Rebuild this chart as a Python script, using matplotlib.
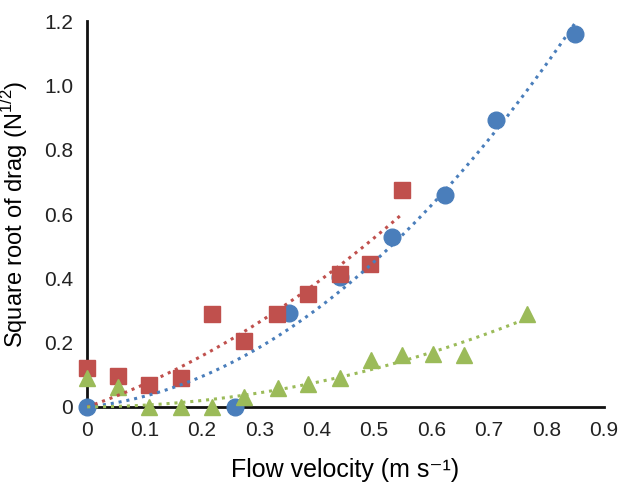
import numpy as np
import matplotlib as mpl
mpl.use("Agg")
import matplotlib.pyplot as plt

mpl.rcParams.update({"font.family": ["Liberation Sans", "DejaVu Sans"]})

# blue circles
blue_x = [0.0, 0.258, 0.351, 0.44, 0.531, 0.623, 0.713, 0.849]
blue_y = [0.0, 0.0, 0.291, 0.403, 0.529, 0.66, 0.892, 1.16]
# red squares
red_x = [0.0, 0.054, 0.108, 0.164, 0.218, 0.274, 0.331, 0.384, 0.44, 0.492, 0.548]
red_y = [0.12, 0.096, 0.068, 0.09, 0.29, 0.205, 0.29, 0.35, 0.413, 0.446, 0.675]
# green triangles
green_x = [0.0, 0.054, 0.108, 0.164, 0.218, 0.274, 0.333, 0.384, 0.44, 0.494, 0.548, 0.602, 0.656, 0.766]
green_y = [0.09, 0.062, 0.0, 0.0, 0.0, 0.03, 0.06, 0.07, 0.09, 0.146, 0.16, 0.166, 0.16, 0.29]

x_ticks = [0, 0.1, 0.2, 0.3, 0.4, 0.5, 0.6, 0.7, 0.8, 0.9]
x_labels = ["0", "0.1", "0.2", "0.3", "0.4", "0.5", "0.6", "0.7", "0.8", "0.9"]
y_ticks = [0, 0.2, 0.4, 0.6, 0.8, 1.0, 1.2]
y_labels = ["0", "0.2", "0.4", "0.6", "0.8", "1.0", "1.2"]


def trend(x, y):
  # 2nd order polynomial, intercept fixed at zero (like the spreadsheet trendline)
  x = np.asarray(x)
  y = np.asarray(y)
  A = np.column_stack([x ** 2, x])
  coef = np.linalg.lstsq(A, y, rcond=None)[0]
  xs = np.linspace(0, x.max(), 100)
  return xs, coef[0] * xs ** 2 + coef[1] * xs


fig = plt.figure(figsize=(6.27, 4.92), dpi=100)
ax = fig.add_axes([0.139, 0.173, 0.824, 0.784])

series = [
  (blue_x, blue_y, "#4a7ebb", "o"),
  (red_x, red_y, "#c0504d", "s"),
  (green_x, green_y, "#9bbb59", "^"),
]
for x, y, c, m in series:
  ax.plot(x, y, linestyle="none", marker=m, markersize=12, color=c,
          clip_on=False, zorder=3)
for x, y, c, m in series:
  xs, ys = trend(x, y)
  ax.plot(xs, ys, linestyle=(0, (1, 1.6)), linewidth=2.2, color=c,
          clip_on=False, zorder=4)

ax.set_xlim(0, 0.9)
ax.set_ylim(0, 1.2)
ax.set_xticks(x_ticks)
ax.set_xticklabels(x_labels)
ax.set_yticks(y_ticks)
ax.set_yticklabels(y_labels)
ax.tick_params(length=0, labelsize=15, colors="#222222", pad=10)
ax.spines["top"].set_visible(False)
ax.spines["right"].set_visible(False)
for s in ["left", "bottom"]:
  ax.spines[s].set_linewidth(2)
  ax.spines[s].set_color("#111111")

ax.set_xlabel("Flow velocity (m s\u207b\u00b9)", fontsize=18, labelpad=13)
ax.set_ylabel("Square root of drag (N$^{\\mathregular{1/2}}$)", fontsize=17, labelpad=10)

fig.savefig("out.png", dpi=100)
plt.close(fig)
